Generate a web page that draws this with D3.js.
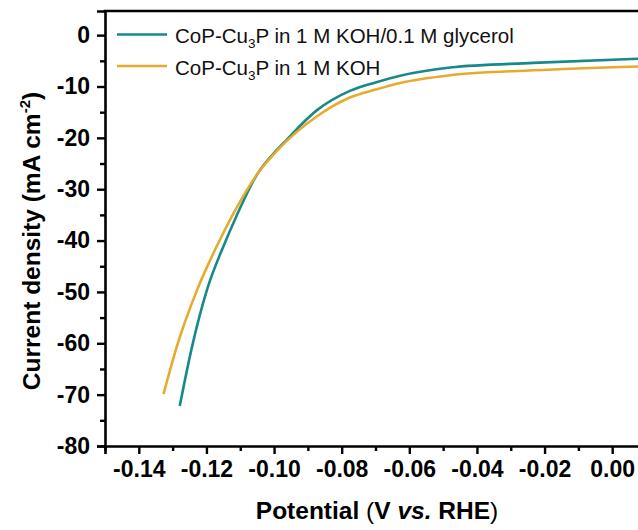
<!DOCTYPE html>
<html>
<head>
<meta charset="utf-8">
<script src="https://cdn.jsdelivr.net/npm/d3@7"></script>
<style>
  html, body { margin: 0; padding: 0; background: #fff; }
  svg { display: block; font-family: "Liberation Sans", Arial, sans-serif; }
</style>
</head>
<body>
<div id="chart"></div>
<script>
// potential (V vs. RHE) and current density (mA cm-2)
const glycerolV = [-0.1279, -0.1242, -0.1198, -0.1149, -0.1111, -0.1050, -0.0991, -0.0972, -0.0873, -0.0774, -0.0700, -0.0627, -0.0479, -0.0233, 0.0077];
const glycerolJ = [-72.2, -60.5, -49.5, -41.0, -35.2, -27.1, -22.3, -21.0, -14.6, -10.8, -9.2, -7.9, -6.3, -5.4, -4.6];

const kohV = [-0.1327, -0.1287, -0.1227, -0.1168, -0.1124, -0.1050, -0.0991, -0.0873, -0.0774, -0.0700, -0.0627, -0.0479, -0.0233, 0.0077];
const kohJ = [-69.9, -60.5, -49.5, -40.9, -35.2, -27.1, -22.5, -15.8, -12.1, -10.6, -9.3, -7.8, -6.85, -6.1];

const xTicks = [-0.14, -0.12, -0.10, -0.08, -0.06, -0.04, -0.02, 0.00];
const xMinor = [-0.15, -0.13, -0.11, -0.09, -0.07, -0.05, -0.03, -0.01];
const yTicks = [0, -10, -20, -30, -40, -50, -60, -70, -80];
const yMinor = [-5, -15, -25, -35, -45, -55, -65, -75];

const series = [
  { name: "glycerol", v: glycerolV, j: glycerolJ, color: "#17898a", label: ["CoP-Cu", "3", "P in 1 M KOH/0.1 M glycerol"] },
  { name: "koh", v: kohV, j: kohJ, color: "#e6aa2e", label: ["CoP-Cu", "3", "P in 1 M KOH"] },
];

const width = 638,
  height = 530;

const x = d3.scaleLinear().domain([-0.15, 0.01]).range([105, 646]);
const y = d3.scaleLinear().domain([-80, 4.7]).range([446, 11]);

const svg = d3
  .select("#chart")
  .append("svg")
  .attr("width", width)
  .attr("height", height);

// curves
const line = d3
  .line()
  .x((d) => x(d[0]))
  .y((d) => y(d[1]))
  .curve(d3.curveMonotoneX);

svg
  .append("g")
  .selectAll("path")
  .data(series)
  .join("path")
  .attr("fill", "none")
  .attr("stroke", (d) => d.color)
  .attr("stroke-width", 2.6)
  .attr("d", (d) => line(d.v.map((v, i) => [v, d.j[i]])));

// axes
const xAxis = svg
  .append("g")
  .attr("transform", `translate(0,${y(-80)})`)
  .call(
    d3.axisBottom(x)
      .tickValues(xTicks)
      .tickSize(8)
      .tickPadding(7)
      .tickFormat((d) => d.toFixed(2))
  );

svg
  .append("g")
  .attr("transform", `translate(0,${y(-80)})`)
  .call(d3.axisBottom(x).tickValues(xMinor).tickSize(5).tickFormat(""))
  .call((g) => g.select(".domain").remove());

const yAxis = svg
  .append("g")
  .attr("transform", `translate(${x(-0.15)},0)`)
  .call(d3.axisLeft(y).tickValues(yTicks).tickSize(8).tickPadding(7).tickFormat((d) => String(d)));

svg
  .append("g")
  .attr("transform", `translate(${x(-0.15)},0)`)
  .call(d3.axisLeft(y).tickValues(yMinor).tickSize(5).tickFormat(""))
  .call((g) => g.select(".domain").remove());

svg.selectAll(".domain").attr("stroke", "#000").attr("stroke-width", 2.6);
svg.selectAll(".tick line").attr("stroke", "#000").attr("stroke-width", 2.4);

svg
  .selectAll(".tick text")
  .attr("font-size", 23)
  .attr("font-weight", "bold")
  .attr("font-family", "Liberation Sans, Arial, sans-serif")
  .attr("fill", "#000");

// top frame (right side runs off the picture)
svg
  .append("line")
  .attr("x1", x(-0.15) - 1.3)
  .attr("x2", width)
  .attr("y1", y(4.7))
  .attr("y2", y(4.7))
  .attr("stroke", "#000")
  .attr("stroke-width", 2.6);

// axis titles
const xTitle = svg
  .append("text")
  .attr("x", 377)
  .attr("y", 519)
  .attr("text-anchor", "middle")
  .attr("font-size", 24.5)
  .attr("font-weight", "bold")
  .attr("fill", "#000");
xTitle.append("tspan").text("Potential ");
xTitle.append("tspan").attr("font-weight", "normal").text("(");
xTitle.append("tspan").text("V ");
xTitle.append("tspan").attr("font-style", "italic").text("vs.");
xTitle.append("tspan").text(" RHE");
xTitle.append("tspan").attr("font-weight", "normal").text(")");

const yTitle = svg
  .append("text")
  .attr("transform", "translate(40,241) rotate(-90)")
  .attr("text-anchor", "middle")
  .attr("font-size", 24.5)
  .attr("font-weight", "bold")
  .attr("fill", "#000");
yTitle.append("tspan").text("Current density (mA cm");
yTitle.append("tspan").attr("font-size", 15).attr("dy", -10).text("-2");
yTitle.append("tspan").attr("dy", 10).text(")");

// legend
const legend = svg
  .append("g")
  .selectAll("g")
  .data(series)
  .join("g")
  .attr("transform", (d, i) => `translate(117,${34.5 + i * 31.5})`);

legend
  .append("line")
  .attr("x1", 0)
  .attr("x2", 50)
  .attr("stroke", (d) => d.color)
  .attr("stroke-width", 2.6);

const legendText = legend
  .append("text")
  .attr("x", 58)
  .attr("y", 8.5)
  .attr("font-size", 20.5)
  .attr("fill", "#111");
legendText.append("tspan").text((d) => d.label[0]);
legendText
  .append("tspan")
  .attr("font-size", 13.5)
  .attr("dy", 5)
  .text((d) => d.label[1]);
legendText
  .append("tspan")
  .attr("dy", -5)
  .text((d) => d.label[2]);
</script>
</body>
</html>
